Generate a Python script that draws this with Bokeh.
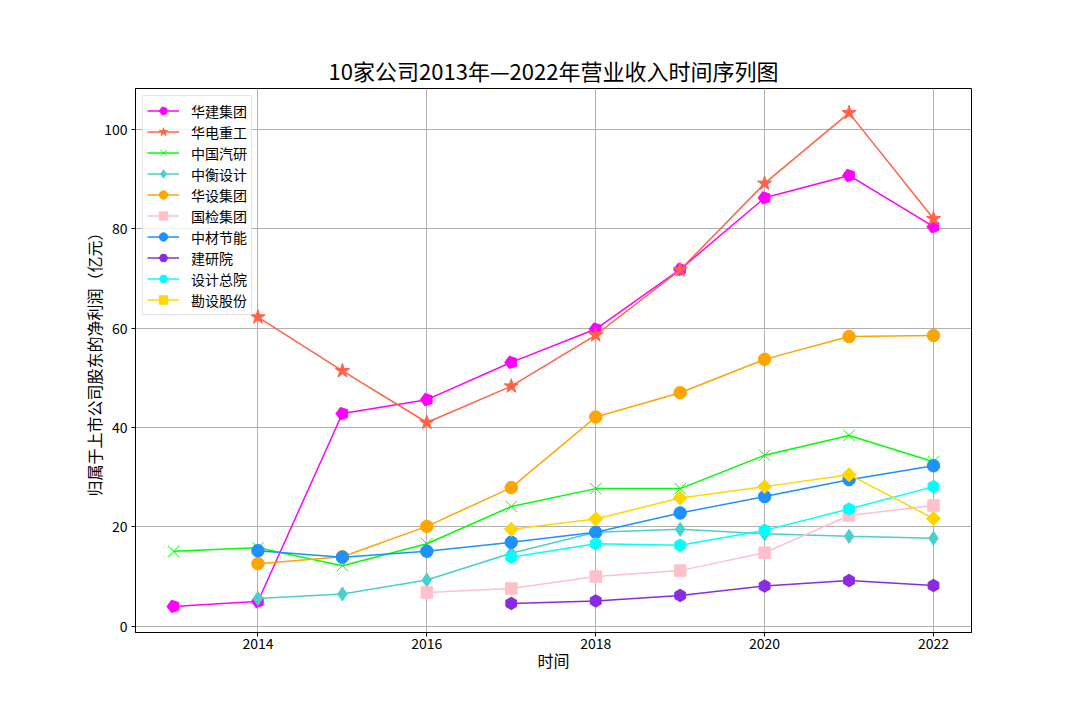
from bokeh.plotting import figure
from bokeh.models import FixedTicker, Range1d, Legend
from bokeh.embed import file_html
from bokeh.resources import INLINE
import math

years = [2013, 2014, 2015, 2016, 2017, 2018, 2019, 2020, 2021, 2022]
x_ticks = [2014, 2016, 2018, 2020, 2022]
y_ticks = [0, 20, 40, 60, 80, 100]

names = ["华建集团", "华电重工", "中国汽研", "中衡设计", "华设集团",
         "国检集团", "中材节能", "建研院", "设计总院", "勘设股份"]

huajian = [4.0, 5.0, 42.8, 45.6, 53.1, 59.8, 71.8, 86.2, 90.7, 80.4]
huadian = [None, 62.2, 51.4, 41.0, 48.3, 58.6, 71.7, 89.1, 103.3, 82.0]
zhongguo_qiyan = [15.1, 15.8, 12.2, 16.6, 24.1, 27.7, 27.7, 34.4, 38.4, 33.1]
zhongheng = [None, 5.6, 6.5, 9.3, 14.7, 18.9, 19.5, 18.6, 18.1, 17.7]
huashe = [None, 12.6, 14.0, 20.1, 27.9, 42.1, 47.0, 53.7, 58.3, 58.5]
guojian = [None, None, None, 6.8, 7.6, 10.0, 11.2, 14.8, 22.3, 24.3]
zhongcai = [None, 15.2, 13.9, 15.1, 16.9, 18.9, 22.8, 26.1, 29.5, 32.3]
jianyan = [None, None, None, None, 4.6, 5.1, 6.2, 8.1, 9.2, 8.2]
sheji_zongyuan = [None, None, None, None, 13.9, 16.6, 16.3, 19.3, 23.6, 28.1]
kanshe = [None, None, None, None, 19.5, 21.6, 25.8, 28.1, 30.5, 21.7]

series = [huajian, huadian, zhongguo_qiyan, zhongheng, huashe,
          guojian, zhongcai, jianyan, sheji_zongyuan, kanshe]

colors = ["#FF00FF", "#FF6347", "#00FF00", "#48D1CC", "#FFA500",
          "#FFC0CB", "#1E90FF", "#8A2BE2", "#00FFFF", "#FFD700"]

FONT = "Noto Sans CJK SC"

p = figure(width=1064, height=704, output_backend="svg", toolbar_location=None,
           x_range=Range1d(2012.55, 2022.45), y_range=Range1d(-1.25, 108.2),
           min_border_left=135, min_border_right=93, min_border_top=88,
           min_border_bottom=72)

p.title.text = "10家公司2013年—2022年营业收入时间序列图"
p.title.align = "center"
p.title.text_font = FONT
p.title.text_font_size = "22px"
p.title.text_font_style = "normal"
p.title.text_color = "black"
p.title.standoff = 6

p.outline_line_color = "black"
p.outline_line_width = 1
p.outline_line_alpha = 1

p.xaxis.ticker = FixedTicker(ticks=x_ticks)
p.yaxis.ticker = FixedTicker(ticks=y_ticks)
for ax in (p.xaxis, p.yaxis):
    ax.major_label_text_font = FONT
    ax.major_label_text_font_size = "14px"
    ax.major_label_text_color = "black"
    ax.axis_label_text_font = FONT
    ax.axis_label_text_font_size = "16px"
    ax.axis_label_text_font_style = "normal"
    ax.axis_label_text_color = "black"
    ax.axis_line_color = "black"
    ax.major_tick_line_color = "black"
    ax.major_tick_out = 4
    ax.major_tick_in = 0
    ax.minor_tick_line_color = None
p.xaxis.major_label_standoff = 1
p.yaxis.major_label_standoff = 4
p.xaxis.axis_label = "时间"
p.yaxis.axis_label = "归属于上市公司股东的净利润（亿元）"
p.xaxis.axis_label_standoff = -4
p.yaxis.axis_label_standoff = -5

p.xgrid.ticker = FixedTicker(ticks=x_ticks)
p.ygrid.ticker = FixedTicker(ticks=y_ticks)
p.grid.grid_line_color = "#b0b0b0"
p.grid.grid_line_width = 1

legend_items = []
for i, (name, vals, col) in enumerate(zip(names, series, colors)):
    xs = [yr for yr, v in zip(years, vals) if v is not None]
    ys = [v for v in vals if v is not None]
    rs = [p.line(xs, ys, line_color=col, line_width=1.5)]
    if i == 0:
        rs.append(p.ngon(x=xs, y=ys, radius=6.5, radius_units="screen", n=5,
                         angle=math.pi / 2, fill_color=col, line_color=col))
    elif i == 1:
        rs.append(p.scatter(xs, ys, marker="star", size=15, fill_color=col, line_color=col))
    elif i == 2:
        rs.append(p.scatter(xs, ys, marker="x", size=16, line_color=col, line_width=1))
    elif i == 3:
        rs.append(p.scatter(xs, ys, marker="diamond", size=14, fill_color=col, line_color=col))
    elif i in (4, 6):
        rs.append(p.scatter(xs, ys, marker="circle", size=12.5, fill_color=col, line_color=col))
    elif i == 5:
        rs.append(p.scatter(xs, ys, marker="square", size=11.5, fill_color=col, line_color=col))
    elif i in (7, 8):
        rs.append(p.scatter(xs, ys, marker="hex", size=12.5, angle=math.pi / 2,
                            fill_color=col, line_color=col))
    else:
        rs.append(p.scatter(xs, ys, marker="square", size=10, angle=math.pi / 4,
                            fill_color=col, line_color=col))
    legend_items.append((name, rs))

legend = Legend(items=legend_items, location="top_left")
legend.label_text_font = FONT
legend.label_text_font_size = "14px"
legend.label_text_color = "black"
legend.glyph_width = 32
legend.glyph_height = 21
legend.label_height = 21
legend.spacing = 0
legend.padding = 4
legend.margin = 7
legend.label_standoff = 12
legend.border_line_color = "#cccccc"
legend.border_line_width = 1
legend.background_fill_alpha = 0.8
p.add_layout(legend)

open("out.html", "w").write(file_html(p, INLINE))
